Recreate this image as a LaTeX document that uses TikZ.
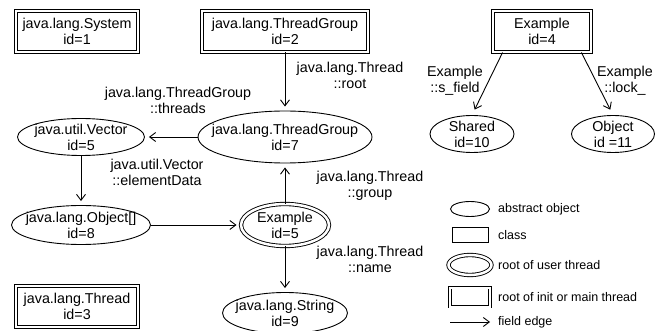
\documentclass[tikz,border=0pt]{standalone}
\usepackage{fontspec}
\setmainfont{Liberation Sans}
\usetikzlibrary{shapes.geometric,arrows.meta}

\tikzset{
  txt/.style={font=\fontsize{14.3}{16}\selectfont, align=center, inner sep=0pt},
  leg/.style={font=\fontsize{12.5}{14}\selectfont, anchor=west, inner sep=0pt},
  sz/.style 2 args={minimum width=#1, minimum height=#2},
  obj/.style={draw, ellipse, line width=0.9pt, inner sep=0pt},
  cls/.style={draw, rectangle, line width=0.9pt, inner sep=0pt},
  rootobj/.style={obj, double, double distance=2.5pt},
  rootcls/.style={cls, double, double distance=2pt},
  field/.style={-{Straight Barb[length=6pt,width=9pt]}, line width=0.9pt, shorten >=4pt}
}

\begin{document}
\begin{tikzpicture}[x=1pt, y=-1pt]
    \useasboundingbox (0,0) rectangle (664,331);

    % Raíces (init / main)
    \node[rootcls, sz={122}{41}, label={[txt]center:{java.lang.System\\id=1}}] (sys1) at (77,31.5) {};
    \node[rootcls, sz={166}{41}, label={[txt]center:{java.lang.ThreadGroup\\id=2}}] (tg2) at (285,31.5) {};
    \node[rootcls, sz={98}{41}, label={[txt]center:{Example\\id=4}}] (ex4) at (542,31.5) {};
    \node[rootcls, sz={122}{41}, label={[txt]center:{java.lang.Thread\\id=3}}] (th3) at (77,306.5) {};

    % Objetos abstractos
    \node[obj, sz={174}{52}, label={[txt]center:{java.lang.ThreadGroup\\id=7}}] (tg7) at (285,137) {};
    \node[obj, sz={127}{37}, label={[txt]center:{java.util.Vector\\id=5}}] (vec5) at (81,137) {};
    \node[obj, sz={139}{39}, label={[txt]center:{java.lang.Object[]\\id=8}}] (obj8) at (81,225) {};
    \node[rootobj, sz={88}{42}, label={[txt]center:{Example\\id=5}}] (ex5) at (285,225) {};
    \node[obj, sz={125}{41}, label={[txt]center:{java.lang.String\\id=9}}] (str9) at (285,313) {};
    \node[obj, sz={84}{37}, label={[txt]center:{Shared\\id=10}}] (sh10) at (472,134) {};
    \node[obj, sz={83}{37}, label={[txt]center:{Object\\id =11}}] (obj11) at (613,134) {};

    % Aristas de campo
    \draw[field] (tg2) -- (tg7);
    \draw[field] (tg7) -- (vec5);
    \draw[field] (vec5) -- (obj8);
    \draw[field] (obj8) -- (ex5);
    \draw[field] (ex5) -- (tg7);
    \draw[field] (ex5) -- (str9);
    \draw[field, shorten >=6pt] (ex4.208) -- (sh10.north);
    \draw[field, shorten >=6pt] (ex4.332) -- (obj11.north);

    % Etiquetas
    \node[txt] (lroot) at (350,75) {java.lang.Thread\\::root};
    \node[txt] (lthreads) at (178,100) {java.lang.ThreadGroup\\::threads};
    \node[txt] (lelem) at (157,172) {java.util.Vector\\::elementData};
    \node[txt] (lgroup) at (370,186) {java.lang.Thread\\::group};
    \node[txt] (lname) at (370,259) {java.lang.Thread\\::name};
    \node[txt] (lsfield) at (455,81) {Example\\::s\_field};
    \node[txt] (llock) at (625,81) {Example\\::lock\_};

    % Leyenda
    \node[obj, sz={39}{15}] (kobj) at (470,209) {};
    \node[cls, sz={36}{15}] (kcls) at (470,235) {};
    \node[rootobj, sz={43}{20}] (kuser) at (470,265) {};
    \node[rootcls, sz={40}{19}] (kinit) at (470,297) {};
    \coordinate (ka) at (450,322);
    \coordinate (kb) at (490,322);
    \draw[field, shorten >=0pt] (ka) -- (kb);
    \node[leg] (tobj) at (498,209) {abstract object};
    \node[leg] (tcls) at (498,235) {class};
    \node[leg] (tuser) at (498,265) {root of user thread};
    \node[leg] (tinit) at (498,297) {root of init or main thread};
    \node[leg] (tedge) at (498,322) {field edge};
\end{tikzpicture}
\end{document}
